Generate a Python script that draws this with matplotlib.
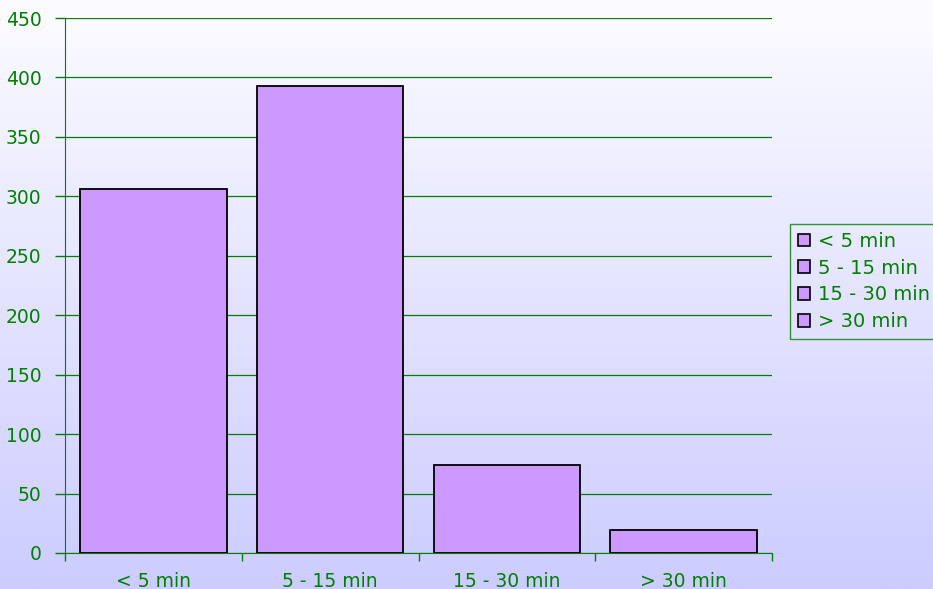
import numpy as np
import matplotlib
matplotlib.use("Agg")
import matplotlib.pyplot as plt
from matplotlib.patches import Patch

categories = ["< 5 min", "5 - 15 min", "15 - 30 min", "> 30 min"]
values = [306, 393, 74, 19]
yticks = [0, 50, 100, 150, 200, 250, 300, 350, 400, 450]

GREEN = "#008000"
BAR = "#cc99ff"
FS = 13.5
plt.rcParams['font.family'] = ['DejaVu Sans']

fig = plt.figure(figsize=(9.33, 5.89), dpi=100)

# gradient background
bg = fig.add_axes([0, 0, 1, 1], zorder=-10)
top = np.array([252, 252, 255]) / 255
bot = np.array([204, 204, 255]) / 255
t = np.linspace(0, 1, 256)[:, None]
grad = top[None, :] * (1 - t) + bot[None, :] * t
bg.imshow(grad[:, None, :], aspect='auto', extent=[0, 1, 0, 1])
bg.axis('off')

ax = fig.add_axes([65/933, 1-553/589, (772-65)/933, (553-18)/589])
ax.patch.set_alpha(0)
x = np.arange(len(categories))
ax.bar(x, values, width=0.83, color=BAR, edgecolor='black', linewidth=1.3, zorder=3)

ax.set_xlim(-0.5, len(categories) - 0.5)
ax.set_ylim(0, 450)
ax.set_yticks(yticks)
ax.set_yticklabels([str(v) for v in yticks])
ax.yaxis.grid(True, color=GREEN, linewidth=0.9, zorder=0)
ax.set_axisbelow(True)

# category ticks at boundaries, labels centered
ax.set_xticks(np.arange(len(categories) + 1) - 0.5)
ax.set_xticklabels([])
ax.set_xticks(x, minor=True)
ax.set_xticklabels(categories, minor=True)
ax.tick_params(axis='x', which='minor', length=0, pad=14, labelcolor=GREEN, labelsize=FS)
ax.tick_params(axis='x', which='major', length=6, color=GREEN, width=1)
ax.tick_params(axis='y', length=7, color=GREEN, width=1, pad=10, labelcolor=GREEN, labelsize=FS)

for s in ['top', 'right']:
    ax.spines[s].set_visible(False)
ax.spines['left'].set_color(GREEN)
ax.spines['bottom'].set_color(GREEN)

handles = [Patch(facecolor=BAR, edgecolor='black', linewidth=1.2) for _ in categories]
leg = fig.legend(handles, categories, loc='center left', bbox_to_anchor=(790/933, 1-281.5/589),
                 frameon=True, fontsize=14, handlelength=0.65, handleheight=0.65,
                 handletextpad=0.4, labelspacing=0.4, borderpad=0.4, borderaxespad=0,
                 fancybox=False)
leg.get_frame().set_edgecolor(GREEN)
leg.get_frame().set_facecolor('none')
leg.get_frame().set_linewidth(1)
for txt in leg.get_texts():
    txt.set_color(GREEN)

fig.savefig("out.png", dpi=100)
